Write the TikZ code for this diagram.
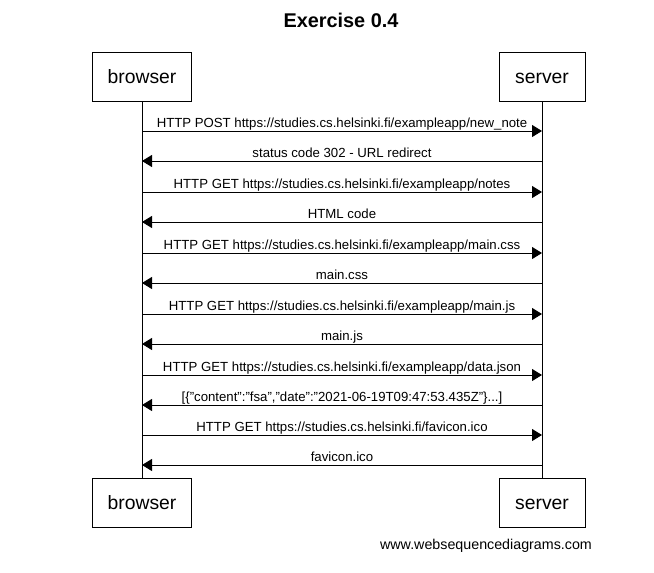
\documentclass[tikz,border=0pt]{standalone}
\usepackage{fontspec}
\setmainfont{Liberation Sans}
\usetikzlibrary{positioning, arrows.meta}

\begin{document}
\begin{tikzpicture}[
    x=0.75pt, y=-0.75pt,
    >={Triangle[length=7.5pt, width=9pt]},
    actor/.style={draw, line width=0.75pt, minimum height=36.75pt, inner sep=0pt, text height=10.5pt, text depth=0.7pt, font=\fontsize{14.5}{17}\selectfont},
    life/.style={draw, line width=0.75pt},
    msg/.style={->, line width=0.75pt},
    lbl/.style={anchor=base, inner sep=0pt, font=\fontsize{9.9}{12}\selectfont},
]
\useasboundingbox (0,0) rectangle (654,572);
\node[font=\bfseries\fontsize{14.9}{18}\selectfont] (title) at (341,20) {Exercise 0.4};
\node[actor, minimum width=74.25pt] (browser) at (142,76.5) {browser};
\node[actor, minimum width=64.5pt] (server) at (542,76.5) {server};
\node[actor, minimum width=74.25pt] (browserB) at (142,503) {browser};
\node[actor, minimum width=64.5pt] (serverB) at (542,503) {server};
\draw[life] (browser) -- (browserB);
\draw[life] (server) -- (serverB);

% messages
\foreach \n/\y/\from/\to/\t in {
    1/131/b/s/{HTTP POST https://studies.cs.helsinki.fi/exampleapp/new\_note},
    2/161/s/b/{status code 302 - URL redirect},
    3/192/b/s/{HTTP GET https://studies.cs.helsinki.fi/exampleapp/notes},
    4/222/s/b/{HTML code},
    5/253/b/s/{HTTP GET https://studies.cs.helsinki.fi/exampleapp/main.css},
    6/283/s/b/{main.css},
    7/314/b/s/{HTTP GET https://studies.cs.helsinki.fi/exampleapp/main.js},
    8/344/s/b/{main.js},
    9/375/b/s/{HTTP GET https://studies.cs.helsinki.fi/exampleapp/data.json},
    10/405/s/b/{[\{"content":"fsa","date":"2021-06-19T09:47:53.435Z"\}...]},
    11/435/b/s/{HTTP GET https://studies.cs.helsinki.fi/favicon.ico},
    12/465/s/b/{favicon.ico}} {
  \coordinate (b\n) at (142,\y);
  \coordinate (s\n) at (542,\y);
  \node[lbl] (m\n) at (342,\y-4) {\t};
  \draw[msg] (\from\n) -- (\to\n);
}

\node[font=\fontsize{10.7}{13}\selectfont] (credit) at (486,546) {www.websequencediagrams.com};
\end{tikzpicture}
\end{document}
